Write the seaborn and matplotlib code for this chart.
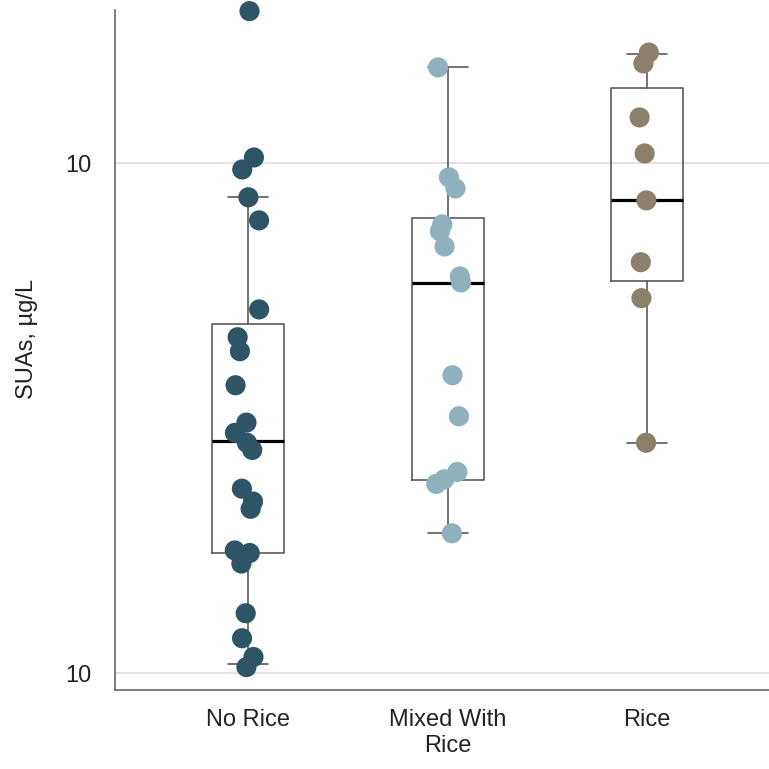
import numpy as np
import pandas as pd
import matplotlib
matplotlib.use("Agg")
import matplotlib.pyplot as plt
import seaborn as sns
from matplotlib.ticker import FixedLocator, LogLocator, NullFormatter, FixedFormatter

# ---------------- data ----------------
categories = ["No Rice", "Mixed With\nRice", "Rice"]

no_rice = [19.9, 10.27, 9.73, 8.58, 7.73, 5.17, 4.56, 4.28, 3.67, 3.10, 2.96,
           2.83, 2.74, 2.30, 2.17, 2.10, 1.74, 1.72, 1.64, 1.31, 1.17, 1.075, 1.027]
mixed = [15.43, 9.39, 8.93, 7.59, 7.36, 6.87, 6.00, 5.84, 3.84, 3.19, 2.48,
         2.40, 2.35, 1.88]
rice = [16.5, 15.71, 12.31, 10.46, 8.46, 6.40, 5.44, 2.83]

# box statistics as drawn in the reference
box_whislo = [1.04, 1.88, 2.83]
box_q1 = [1.72, 2.39, 5.87]
box_med = [2.85, 5.82, 8.46]
box_q3 = [4.84, 7.80, 14.03]
box_whishi = [8.58, 15.43, 16.43]

y_ticks = [1, 10]
y_ticklabels = ["10", "10"]
y_label = "SUAs, µg/L"

colors = ["#2e5565", "#8fb1be", "#8c806d"]

# ---------------- plot ----------------
sns.set_style("white")
plt.rcParams["font.family"] = ["Liberation Sans", "DejaVu Sans"]

fig = plt.figure(figsize=(7.69, 7.69), dpi=100)
ax = fig.add_axes([0.1495, 0.1027, 0.8505, 0.8843])

df = pd.DataFrame({
    "group": [categories[0]] * len(no_rice) + [categories[1]] * len(mixed) + [categories[2]] * len(rice),
    "value": no_rice + mixed + rice,
})

stats = []
for i, c in enumerate(categories):
    stats.append(dict(label=c, whislo=box_whislo[i], q1=box_q1[i], med=box_med[i],
                      q3=box_q3[i], whishi=box_whishi[i], fliers=[]))

edge = "#5a5a5a"
ax.bxp(stats, positions=[0, 1, 2], widths=0.36, capwidths=0.2, showfliers=False,
       boxprops=dict(color=edge, linewidth=1.2),
       whiskerprops=dict(color=edge, linewidth=1.2),
       capprops=dict(color=edge, linewidth=1.2),
       medianprops=dict(color="black", linewidth=2.3),
       manage_ticks=False, zorder=2)

np.random.seed(3)
sns.stripplot(data=df, x="group", y="value", hue="group", order=categories,
              hue_order=categories, palette=colors, jitter=0.07, size=14.5,
              linewidth=0, legend=False, ax=ax, zorder=3)
for coll in ax.collections:
    coll.set_clip_on(False)

ax.set_yscale("log")
ax.set_ylim(0.926, 20)
ax.set_xlim(-0.667, 2.61)

ax.yaxis.set_major_locator(FixedLocator(y_ticks))
ax.yaxis.set_major_formatter(FixedFormatter(y_ticklabels))
ax.yaxis.set_minor_locator(LogLocator(base=10, subs=np.arange(2, 10)))
ax.yaxis.set_minor_formatter(NullFormatter())

ax.set_xticks([0, 1, 2])
ax.set_xticklabels(categories)

ax.grid(False)
ax.yaxis.grid(True, which="major", color="#dedede", linewidth=1.2, zorder=0)
ax.set_axisbelow(True)

for s in ["top", "right"]:
    ax.spines[s].set_visible(False)
for s in ["left", "bottom"]:
    ax.spines[s].set_color("#666666")
    ax.spines[s].set_linewidth(1.2)

ax.tick_params(axis="y", which="major", length=11, width=1.2, color="#666666",
               labelsize=17, labelcolor="#222222", pad=6)
ax.tick_params(axis="y", which="minor", length=5.5, width=1.2, color="#666666")
ax.tick_params(axis="x", which="major", length=5, width=1.0, color="#aaaaaa",
               labelsize=17, labelcolor="#222222", pad=9)

ax.set_xlabel("")
ax.set_ylabel(y_label, fontsize=17, color="#222222")
ax.yaxis.set_label_coords(-0.117, 0.516)

fig.savefig("out.png", dpi=100, facecolor="white")
